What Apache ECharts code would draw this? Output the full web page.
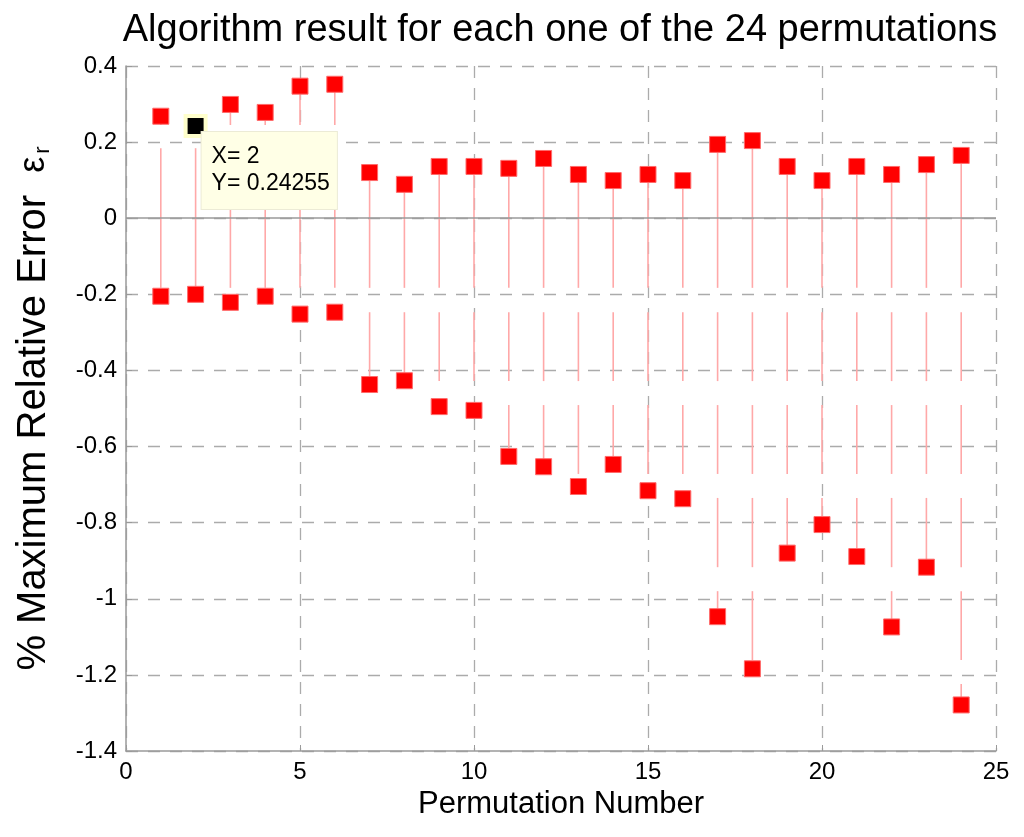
<!DOCTYPE html>
<html>
<head>
<meta charset="utf-8">
<script src="https://cdn.jsdelivr.net/npm/echarts@6/dist/echarts.min.js"></script>
<style>
  html, body { margin: 0; padding: 0; background: #fff; }
  #chart { width: 1024px; height: 837px; }
</style>
</head>
<body>
<div id="chart"></div>
<script>
// values
var permutations = [1, 2, 3, 4, 5, 6, 7, 8, 9, 10, 11, 12, 13, 14, 15, 16, 17, 18, 19, 20, 21, 22, 23, 24];
var upperErr = [0.268, 0.24255, 0.299, 0.278, 0.347, 0.352, 0.120, 0.089, 0.136, 0.136, 0.131, 0.157,
                0.115, 0.099, 0.115, 0.099, 0.194, 0.204, 0.136, 0.099, 0.136, 0.115, 0.141, 0.165];
var lowerErr = [-0.205, -0.200, -0.221, -0.205, -0.252, -0.247, -0.437, -0.427, -0.495, -0.505, -0.626, -0.653,
                -0.705, -0.647, -0.716, -0.737, -1.047, -1.184, -0.880, -0.805, -0.889, -1.074, -0.917, -1.279];
var pickedIndex = 1; // data tip shown on permutation 2

// breaks in the thin vertical lines (as in the original render), top -> bottom
var lineBreaks = [[0.245, 0.184], [-0.183, -0.247], [-0.428, -0.491], [-0.672, -0.735], [-0.917, -0.980], [-1.161, -1.224]];

var font = "'Liberation Sans', Arial, sans-serif";

var stems = permutations.map(function (p, i) { return [p, lowerErr[i], upperErr[i]]; });
var upperPts = permutations.map(function (p, i) { return [p, upperErr[i]]; });
var lowerPts = permutations.map(function (p, i) { return [p, lowerErr[i]]; });
var picked = [permutations[pickedIndex], upperErr[pickedIndex]];

function cutSegments(hi, lo) {
  var segs = [], s = hi;
  for (var k = 0; k < lineBreaks.length; k++) {
    var g = lineBreaks[k];
    if (g[0] >= s) { if (g[1] < s) s = g[1]; continue; }
    if (g[0] <= lo) break;
    segs.push([s, g[0]]);
    s = g[1];
  }
  if (s > lo) segs.push([s, lo]);
  return segs;
}

var myChart = echarts.init(document.getElementById('chart'));
myChart.setOption({
  animation: false,
  title: {
    text: 'Algorithm result for each one of the 24 permutations',
    left: 555,
    textAlign: 'center',
    top: 7,
    textStyle: { fontFamily: font, fontSize: 38, fontWeight: 'normal', color: '#000' }
  },
  grid: { left: 126, right: 28, top: 66, bottom: 86, containLabel: false },
  xAxis: {
    type: 'value',
    min: 0,
    max: 25,
    interval: 5,
    name: 'Permutation Number',
    nameLocation: 'middle',
    nameGap: 38,
    nameTextStyle: { fontFamily: font, fontSize: 31, color: '#000' },
    axisLine: { onZero: false, lineStyle: { color: '#9a9a9a', width: 1.5 } },
    axisTick: { inside: true, length: 6, lineStyle: { color: '#9a9a9a' } },
    axisLabel: { fontFamily: font, fontSize: 24, color: '#000', margin: 9 },
    splitLine: { show: true, lineStyle: { color: '#ababab', width: 1.3, type: [12, 10] } }
  },
  yAxis: {
    type: 'value',
    min: -1.4,
    max: 0.4,
    interval: 0.2,
    name: '% Maximum Relative Error  {e|ε}{r|r}',
    nameLocation: 'middle',
    nameGap: 72,
    nameTextStyle: {
      fontFamily: font, fontSize: 40, color: '#000', lineHeight: 40,
      rich: {
        e: { fontFamily: font, fontSize: 36, lineHeight: 40 },
        r: { fontFamily: font, fontSize: 22, lineHeight: 22, padding: [22, 0, 0, 3], verticalAlign: 'bottom' }
      }
    },
    axisLine: { lineStyle: { color: '#9a9a9a', width: 1.5 } },
    axisTick: { inside: true, length: 6, lineStyle: { color: '#9a9a9a' } },
    axisLabel: {
      fontFamily: font, fontSize: 24, color: '#000', margin: 9,
      formatter: function (v) { return String(Math.round(v * 10) / 10); }
    },
    splitLine: { show: true, lineStyle: { color: '#ababab', width: 1.3, type: [12, 10] } }
  },
  series: [
    {
      name: 'range',
      type: 'custom',
      z: 1,
      data: stems,
      renderItem: function (params, api) {
        var x = api.value(0), lo = api.value(1), hi = api.value(2);
        var children = cutSegments(hi, lo).map(function (sg) {
          var a = api.coord([x, sg[0]]), b = api.coord([x, sg[1]]);
          return {
            type: 'line',
            shape: { x1: a[0], y1: a[1], x2: b[0], y2: b[1] },
            style: { stroke: '#ffa8a8', lineWidth: 1.6 }
          };
        });
        return { type: 'group', children: children };
      },
      markLine: {
        silent: true,
        symbol: 'none',
        label: { show: false },
        lineStyle: { color: '#9a9a9a', type: 'solid', width: 1.5 },
        data: [{ yAxis: 0 }]
      }
    },
    {
      name: 'upper',
      type: 'scatter',
      z: 3,
      symbol: 'rect',
      symbolSize: 16,
      itemStyle: { color: '#ff0000', borderColor: '#ff6a6a', borderWidth: 1, opacity: 1 },
      data: upperPts
    },
    {
      name: 'lower',
      type: 'scatter',
      z: 3,
      symbol: 'rect',
      symbolSize: 16,
      itemStyle: { color: '#ff0000', borderColor: '#ff6a6a', borderWidth: 1, opacity: 1 },
      data: lowerPts
    },
    {
      name: 'datatip',
      type: 'scatter',
      z: 5,
      symbol: 'rect',
      symbolSize: 20,
      itemStyle: { color: '#000', borderColor: '#ffffcc', borderWidth: 4, opacity: 1 },
      data: [picked],
      label: {
        show: true,
        position: [18, 18],
        align: 'left',
        verticalAlign: 'top',
        formatter: function (p) { return 'X= ' + p.value[0] + '\nY= ' + p.value[1]; },
        fontFamily: font,
        fontSize: 23,
        lineHeight: 27,
        color: '#000',
        backgroundColor: '#ffffe6',
        borderColor: '#ecebd6',
        borderWidth: 1,
        padding: [11, 7, 12, 10]
      }
    }
  ]
});
</script>
</body>
</html>
